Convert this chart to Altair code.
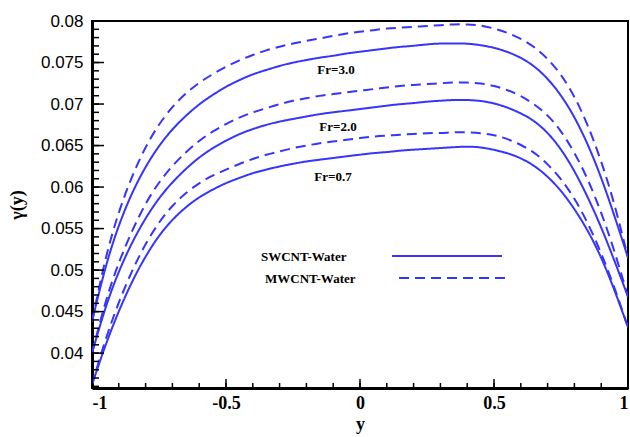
import altair as alt
import pandas as pd

xs = [-1.0, -0.95, -0.9, -0.85, -0.8, -0.75, -0.7, -0.65, -0.6, -0.55, -0.5, -0.45, -0.4, -0.35,
      -0.3, -0.25, -0.2, -0.15, -0.1, -0.05, 0.0, 0.05, 0.1, 0.15, 0.2, 0.25, 0.3, 0.35, 0.4, 0.45,
      0.5, 0.55, 0.6, 0.65, 0.7, 0.75, 0.8, 0.85, 0.9, 0.95, 1.0]

sw_07 = [0.0362, 0.0410, 0.0451, 0.0487, 0.0517, 0.0542, 0.0561, 0.0576, 0.0588, 0.0597, 0.0605,
         0.0611, 0.0617, 0.0621, 0.0625, 0.0628, 0.0631, 0.0633, 0.0635, 0.0637, 0.0639, 0.0641,
         0.0642, 0.0644, 0.0645, 0.0646, 0.0647, 0.0648, 0.0649, 0.0648, 0.0645, 0.0641, 0.0635,
         0.0626, 0.0613, 0.0596, 0.0574, 0.0548, 0.0516, 0.0476, 0.0431]
mw_07 = [0.0362, 0.0417, 0.0462, 0.0500, 0.0532, 0.0558, 0.0578, 0.0593, 0.0605, 0.0614, 0.0621,
         0.0628, 0.0634, 0.0639, 0.0643, 0.0647, 0.0650, 0.0653, 0.0655, 0.0657, 0.0659, 0.0661,
         0.0662, 0.0663, 0.0664, 0.0665, 0.0665, 0.0666, 0.0666, 0.0665, 0.0663, 0.0658, 0.0651,
         0.0642, 0.0628, 0.0610, 0.0587, 0.0557, 0.0521, 0.0479, 0.0431]
sw_20 = [0.0400, 0.0456, 0.0499, 0.0534, 0.0563, 0.0587, 0.0606, 0.0622, 0.0636, 0.0647, 0.0656,
         0.0664, 0.0670, 0.0675, 0.0679, 0.0682, 0.0685, 0.0688, 0.0690, 0.0692, 0.0694, 0.0696,
         0.0698, 0.0700, 0.0701, 0.0703, 0.0704, 0.0705, 0.0705, 0.0704, 0.0701, 0.0696, 0.0689,
         0.0680, 0.0666, 0.0646, 0.0620, 0.0588, 0.0552, 0.0511, 0.0468]
mw_20 = [0.0400, 0.0463, 0.0510, 0.0548, 0.0581, 0.0606, 0.0626, 0.0642, 0.0656, 0.0667, 0.0676,
         0.0684, 0.0690, 0.0695, 0.0700, 0.0704, 0.0707, 0.0710, 0.0712, 0.0714, 0.0716, 0.0718,
         0.0720, 0.0722, 0.0723, 0.0724, 0.0725, 0.0726, 0.0726, 0.0725, 0.0722, 0.0717, 0.0710,
         0.0700, 0.0687, 0.0668, 0.0642, 0.0610, 0.0570, 0.0523, 0.0468]
sw_30 = [0.0438, 0.0505, 0.0555, 0.0594, 0.0625, 0.0650, 0.0670, 0.0686, 0.0700, 0.0711, 0.0721,
         0.0729, 0.0736, 0.0741, 0.0746, 0.0750, 0.0753, 0.0756, 0.0758, 0.0761, 0.0763, 0.0765,
         0.0767, 0.0769, 0.0770, 0.0772, 0.0773, 0.0773, 0.0773, 0.0771, 0.0768, 0.0763, 0.0756,
         0.0746, 0.0731, 0.0711, 0.0685, 0.0652, 0.0612, 0.0565, 0.0515]
mw_30 = [0.0438, 0.0516, 0.0571, 0.0614, 0.0649, 0.0676, 0.0697, 0.0713, 0.0726, 0.0736, 0.0745,
         0.0753, 0.0759, 0.0765, 0.0769, 0.0773, 0.0776, 0.0779, 0.0782, 0.0785, 0.0787, 0.0789,
         0.0791, 0.0792, 0.0793, 0.0794, 0.0795, 0.0796, 0.0796, 0.0795, 0.0791, 0.0786, 0.0779,
         0.0769, 0.0755, 0.0736, 0.0710, 0.0675, 0.0632, 0.0580, 0.0515]

fluids = ["SWCNT-Water", "MWCNT-Water"]
fr_labels = ["Fr=3.0", "Fr=2.0", "Fr=0.7"]

y_major = [0.04, 0.045, 0.05, 0.055, 0.06, 0.065, 0.07, 0.075, 0.08]
y_minor = [round(0.036 + 0.001 * i, 3) for i in range(45)]
x_major = [-1, -0.5, 0, 0.5, 1]
x_minor = [round(-1 + 0.1 * i, 1) for i in range(21)]

series = [
    ("Fr=0.7", fluids[0], sw_07), ("Fr=0.7", fluids[1], mw_07),
    ("Fr=2.0", fluids[0], sw_20), ("Fr=2.0", fluids[1], mw_20),
    ("Fr=3.0", fluids[0], sw_30), ("Fr=3.0", fluids[1], mw_30),
]
rows = []
for fr, fl, vals in series:
    for x, v in zip(xs, vals):
        rows.append({"x": x, "v": v, "fr": fr, "fluid": fl})
df = pd.DataFrame(rows)

W, H = 536, 367
BLUE = "#3535ff"
SERIF = "Liberation Serif"

xscale = alt.Scale(domain=[-1, 1], nice=False)
yscale = alt.Scale(domain=[0.0358, 0.08], nice=False, zero=False)

lines = alt.Chart(df).mark_line(strokeWidth=2, color=BLUE, interpolate="basis", clip=True).encode(
    x=alt.X("x:Q", scale=xscale, axis=alt.Axis(
        values=x_major, title="y", ticks=False, grid=False, labelFont=SERIF, labelFontWeight="bold",
        labelFontSize=18, labelColor="black", labelPadding=6, labelExpr="datum.value + ''",
        titleFont=SERIF, titleFontWeight="bold", titleFontSize=18, titleColor="black", titlePadding=3,
        domainColor="black", domainWidth=3)),
    y=alt.Y("v:Q", scale=yscale, axis=alt.Axis(
        values=y_major, title="γ(y)", ticks=False, grid=False, format=".3~f", labelFont="Liberation Sans",
        labelFontSize=17, labelColor="black", labelPadding=9, titleFont=SERIF, titleFontWeight="bold",
        titleFontSize=18, titleColor="black", titlePadding=14, domainColor="black", domainWidth=3)),
    strokeDash=alt.StrokeDash("fluid:N", scale=alt.Scale(domain=fluids, range=[[1, 0], [10, 6]]), legend=None),
    detail="fr:N",
)

def tick_layer(vals, axis, length):
    d = pd.DataFrame({"t": vals})
    if axis == "y":
        return alt.Chart(d).mark_rule(color="black", strokeWidth=1.5).encode(
            y=alt.Y("t:Q", scale=yscale), x=alt.value(0), x2=alt.value(length))
    return alt.Chart(d).mark_rule(color="black", strokeWidth=1.5).encode(
        x=alt.X("t:Q", scale=xscale), y=alt.value(H), y2=alt.value(H - length))

ticks = [tick_layer(y_minor, "y", 7), tick_layer(y_major, "y", 12),
         tick_layer(x_minor, "x", 5), tick_layer(x_major, "x", 9)]

label_pos = [(244, 49), (246, 106), (241, 156)]
labels = [
    alt.Chart(pd.DataFrame({"t": [t]})).mark_text(font=SERIF, fontWeight="bold", fontSize=13,
                                                  color="black", align="center", baseline="middle").encode(
        text="t:N", x=alt.value(px), y=alt.value(py))
    for t, (px, py) in zip(fr_labels, label_pos)
]

leg_text = [
    alt.Chart(pd.DataFrame({"t": [fluids[0]]})).mark_text(font=SERIF, fontWeight="bold", fontSize=13,
                                                          color="black", align="left", baseline="middle").encode(
        text="t:N", x=alt.value(169), y=alt.value(236)),
    alt.Chart(pd.DataFrame({"t": [fluids[1]]})).mark_text(font=SERIF, fontWeight="bold", fontSize=13,
                                                          color="black", align="left", baseline="middle").encode(
        text="t:N", x=alt.value(173), y=alt.value(258)),
]
leg_lines = [
    alt.Chart(pd.DataFrame({"f": [fluids[0]]})).mark_rule(color=BLUE, strokeWidth=2).encode(
        x=alt.value(300), x2=alt.value(410), y=alt.value(235)),
    alt.Chart(pd.DataFrame({"f": [fluids[1]]})).mark_rule(color=BLUE, strokeWidth=2, strokeDash=[10, 6]).encode(
        x=alt.value(307), x2=alt.value(413), y=alt.value(257)),
]

chart = alt.layer(lines, *ticks, *labels, *leg_text, *leg_lines).properties(
    width=W, height=H,
    autosize=alt.AutoSizeParams(type="none"),
    padding={"left": 92, "top": 21, "right": 2, "bottom": 49},
    background="white",
).configure_view(stroke="black", strokeWidth=2)

chart.save("out.html", embed_options={"renderer": "svg", "actions": False})
